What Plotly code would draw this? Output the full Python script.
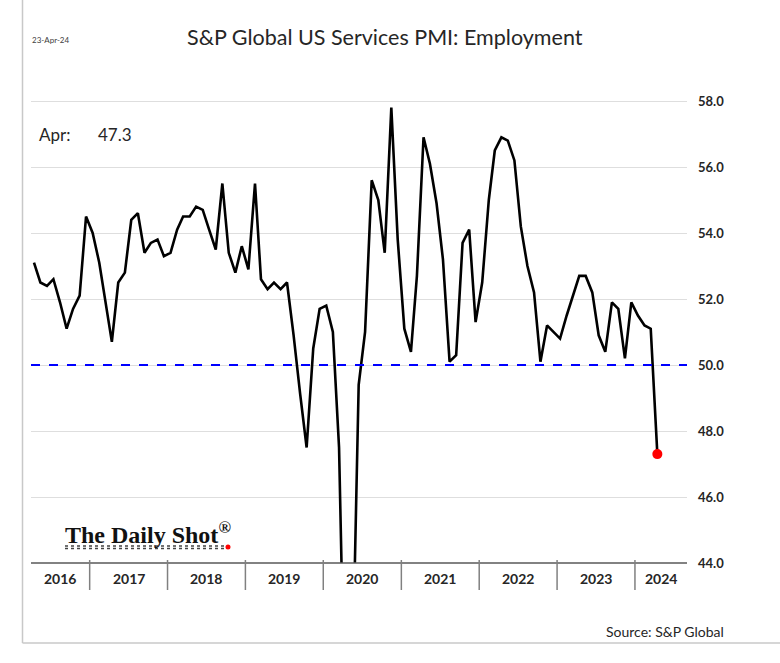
import pandas as pd
import plotly.graph_objects as go

# ---- data (monthly, Apr 2016 .. Apr 2024) ----
start_month = "2016-04-01"
values_2016 = [53.1, 52.5, 52.4, 52.6, 51.9, 51.1, 51.7, 52.1, 54.5]
values_2017 = [54.0, 53.1, 52.0, 50.7, 52.5, 52.8, 54.4, 54.6, 53.4, 53.7, 53.8, 53.3]
values_2018 = [53.4, 54.1, 54.5, 54.5, 54.8, 54.7, 54.1, 53.5, 55.5, 53.4, 52.8, 53.6]
values_2019 = [52.9, 55.5, 52.6, 52.3, 52.5, 52.3, 52.5, 50.9, 49.1, 47.5, 50.5, 51.7]
values_2020 = [51.8, 51.0, 47.5, 38.0, 40.0, 49.4, 51.0, 55.6, 55.0, 53.4, 57.8, 53.8]
values_2021 = [51.1, 50.4, 52.7, 56.9, 56.1, 54.9, 53.2, 50.1, 50.3, 53.7, 54.1, 51.3]
values_2022 = [52.5, 55.0, 56.5, 56.9, 56.8, 56.2, 54.2, 53.0, 52.2, 50.1, 51.2, 51.0]
values_2023 = [50.8, 51.5, 52.1, 52.7, 52.7, 52.2, 50.9, 50.4, 51.9, 51.7, 50.2, 51.9]
values_2024 = [51.5, 51.2, 51.1, 47.3]
year_labels = ["2016", "2017", "2018", "2019", "2020", "2021", "2022", "2023", "2024"]
y_ticks = [44, 46, 48, 50, 52, 54, 56, 58]
threshold = 50.0
latest_label = "Apr:"
latest_value = 47.3

values = (values_2016 + values_2017 + values_2018 + values_2019 + values_2020
          + values_2021 + values_2022 + values_2023 + values_2024)
months = pd.date_range(start_month, periods=len(values), freq="MS")
x = months + pd.Timedelta(days=14)  # centre of each month slot

# ---- layout geometry ----
W, H = 780, 663
ML, MR, MT, MB = 31, 93, 95, 100
PW, PH = W - ML - MR, H - MT - MB
PX_PER_UNIT = 33.0
y_lo = 44.0
y_hi = y_lo + PH / PX_PER_UNIT
x_lo = pd.Timestamp(start_month)
x_hi = pd.Timestamp("2024-09-01")


def px(xp):
    return (xp - ML) / PW


def py(yp):
    return (H - MB - yp) / PH


FONT = "Lato"

fig = go.Figure()
fig.add_trace(go.Scatter(x=x, y=values, mode="lines",
                         line=dict(color="black", width=2.6),
                         hoverinfo="x+y", showlegend=False))
fig.add_trace(go.Scatter(x=[x[-1]], y=[values[-1]], mode="markers",
                         marker=dict(color="#ff0000", size=10),
                         showlegend=False, cliponaxis=False))

shapes = []
# threshold line
shapes.append(dict(type="line", xref="paper", yref="y", x0=0, x1=1,
                   y0=threshold, y1=threshold,
                   line=dict(color="#0000ff", width=2, dash="dash")))
# x axis line
shapes.append(dict(type="line", xref="paper", yref="paper", x0=0, x1=1,
                   y0=0, y1=0, line=dict(color="#595959", width=1.3)))
# year dividers
for yr in year_labels[1:]:
    t = pd.Timestamp(f"{yr}-01-01")
    shapes.append(dict(type="line", xref="x", yref="paper", x0=t, x1=t,
                       y0=py(560), y1=py(590),
                       line=dict(color="#808080", width=1.5)))
# frame
shapes.append(dict(type="line", xref="paper", yref="paper",
                   x0=px(22.5), x1=px(22.5), y0=py(0), y1=py(643),
                   line=dict(color="#c8c8c8", width=1.5)))
shapes.append(dict(type="line", xref="paper", yref="paper",
                   x0=px(22.5), x1=px(W), y0=py(643), y1=py(643),
                   line=dict(color="#c8c8c8", width=1.5)))
# logo underline and dot
shapes.append(dict(type="line", xref="paper", yref="paper",
                   x0=px(65), x1=px(226), y0=py(546), y1=py(546),
                   line=dict(color="#444444", width=1.5, dash="dot")))
shapes.append(dict(type="line", xref="paper", yref="paper",
                   x0=px(65), x1=px(226), y0=py(548.5), y1=py(548.5),
                   line=dict(color="#444444", width=1.5, dash="dot")))
shapes.append(dict(type="circle", xref="paper", yref="paper",
                   x0=px(225.5), x1=px(230.5), y0=py(544.5), y1=py(549.5),
                   fillcolor="#ff0000", line=dict(width=0)))

annotations = []
# year labels centred in each visible year segment
for yr in year_labels:
    a = max(pd.Timestamp(f"{yr}-01-01"), x_lo)
    b = min(pd.Timestamp(f"{int(yr) + 1}-01-01"), x_hi)
    mid = a + (b - a) / 2
    annotations.append(dict(x=mid, y=py(578), xref="x", yref="paper",
                            text=f"<b>{yr}</b>", showarrow=False,
                            font=dict(family=FONT, size=14, color="#262626"),
                            xanchor="center", yanchor="middle"))
annotations += [
    dict(x=px(385), y=py(37), xref="paper", yref="paper",
         text="S&P Global US Services PMI: Employment", showarrow=False,
         font=dict(family=FONT, size=21.5, color="#262626"),
         xanchor="center", yanchor="middle"),
    dict(x=px(30), y=py(40), xref="paper", yref="paper", text="23-Apr-24",
         showarrow=False, font=dict(family=FONT, size=8, color="#404040"),
         xanchor="left", yanchor="middle"),
    dict(x=px(37), y=py(134), xref="paper", yref="paper",
         text=latest_label, showarrow=False,
         font=dict(family=FONT, size=17, color="#262626"),
         xanchor="left", yanchor="middle"),
    dict(x=px(96), y=py(134), xref="paper", yref="paper",
         text=f"{latest_value:.1f}", showarrow=False,
         font=dict(family=FONT, size=17, color="#262626"),
         xanchor="left", yanchor="middle"),
    dict(x=px(63), y=py(533), xref="paper", yref="paper",
         text="The Daily Shot<sup>®</sup>", showarrow=False,
         font=dict(family="Liberation Serif", size=24, color="#111111",
                   weight=600),
         xanchor="left", yanchor="middle"),
    dict(x=px(726), y=py(631), xref="paper", yref="paper",
         text="Source: S&P Global", showarrow=False,
         font=dict(family=FONT, size=14, color="#262626"),
         xanchor="right", yanchor="middle"),
]

fig.update_layout(
    width=W, height=H,
    margin=dict(l=ML, r=MR, t=MT, b=MB, pad=0),
    paper_bgcolor="white", plot_bgcolor="white",
    shapes=shapes, annotations=annotations,
    xaxis=dict(range=[x_lo, x_hi], showgrid=False, zeroline=False,
               showticklabels=False, ticks="", showline=False, fixedrange=True),
    yaxis=dict(range=[y_lo, y_hi], side="right", tickvals=y_ticks,
               ticktext=[f"<b>{v:.1f}</b>" for v in y_ticks],
               tickfont=dict(family=FONT, size=13, color="#262626"),
               showgrid=True, gridcolor="#dedede", gridwidth=1.2,
               zeroline=False, showline=False, ticks="", ticklabelstandoff=10,
               fixedrange=True),
    showlegend=False,
)

fig.write_html("out.html", config={"displayModeBar": False},
               post_script="document.body.style.margin='0';"
                           "document.body.style.overflow='hidden';")
